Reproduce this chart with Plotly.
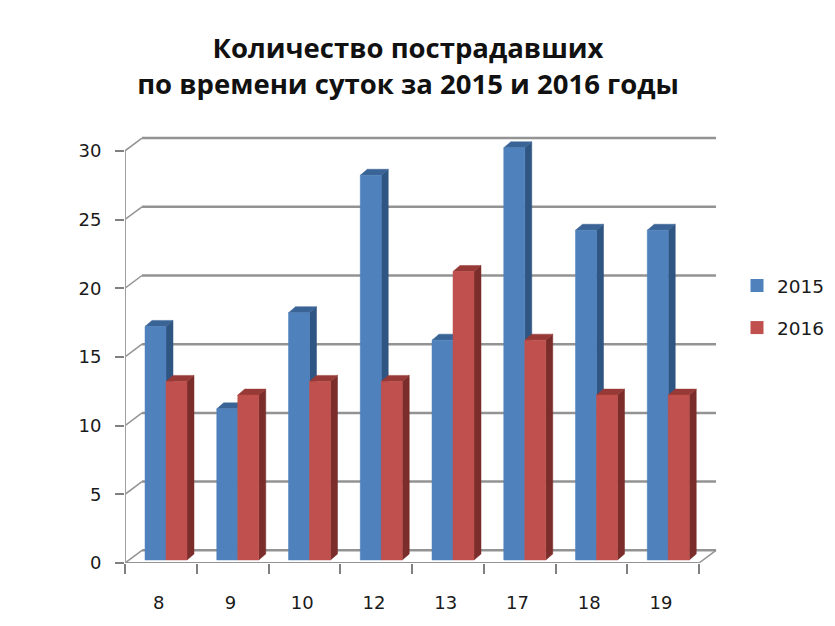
import plotly.graph_objects as go

hours = ["8", "9", "10", "12", "13", "17", "18", "19"]
y2015 = [17, 11, 18, 28, 16, 30, 24, 24]
y2016 = [13, 12, 13, 13, 21, 16, 12, 12]
y_ticks = [0, 5, 10, 15, 20, 25, 30]
title_lines = ["Количество пострадавших", "по времени суток за 2015 и 2016 годы"]

OFF = 8  # the page's own margin around the figure
W, H = 835 - OFF, 626 - 2 * OFF
LEFT, RIGHT, TOP, BOTTOM = 125 - OFF, W, 125 - OFF, 563 - OFF
PX_X = 71.75
PX_Y = 13.74
WALL_DX, WALL_DY = 17 / PX_X, 12.7 / PX_Y
DEPTH_DX, DEPTH_DY = 7 / PX_X, 6 / PX_Y
BAR_BASE = 3 / PX_Y
BAR_W = 21 / PX_X
BAR_START = 20 / PX_X
GRID = "#939393"

fig = go.Figure()
n = len(hours)


def line(xs, ys, color=GRID, width=2.5):
    fig.add_trace(go.Scatter(x=xs, y=ys, mode="lines", line=dict(color=color, width=width),
                             showlegend=False, hoverinfo="skip", cliponaxis=False))


def poly(xs, ys, color):
    fig.add_trace(go.Scatter(x=xs, y=ys, mode="lines", fill="toself", fillcolor=color,
                             line=dict(color=color, width=0.5), showlegend=False,
                             hoverinfo="skip", cliponaxis=False))


def series(values, slot, front, side, top):
    fx, fy, sx, sy, tx, ty = [], [], [], [], [], []
    for i, v in enumerate(values):
        x0 = i + BAR_START + slot * BAR_W
        x1 = x0 + BAR_W
        b, t = BAR_BASE, BAR_BASE + v
        fx += [x0, x1, x1, x0, x0, None]
        fy += [b, b, t, t, b, None]
        sx += [x1, x1 + DEPTH_DX, x1 + DEPTH_DX, x1, x1, None]
        sy += [b, b + DEPTH_DY, t + DEPTH_DY, t, b, None]
        tx += [x0, x1, x1 + DEPTH_DX, x0 + DEPTH_DX, x0, None]
        ty += [t, t, t + DEPTH_DY, t + DEPTH_DY, t, None]
    poly(sx, sy, side)
    poly(tx, ty, top)
    poly(fx, fy, front)


# back wall gridlines, with the diagonal on the side wall
for v in y_ticks:
    line([0, WALL_DX], [v, v + WALL_DY], width=1.5)
    line([WALL_DX, n + WALL_DX], [v + WALL_DY, v + WALL_DY])
line([n, n + WALL_DX], [0, WALL_DY], width=1.5)

series(y2015, 0, "#4f81bd", "#2f5583", "#3a6496")
series(y2016, 1, "#c0504d", "#7b2d2b", "#973a37")

# front axis lines
line([0, 0], [0, 30], color="#a0a0a0", width=2)
line([0, n], [0, 0], color="#949494", width=2)

for name, colour in [("2015", "#4f81bd"), ("2016", "#c0504d")]:
    fig.add_trace(go.Scatter(x=[None], y=[None], mode="markers", name=name, legendgroup=name,
                             marker=dict(symbol="square", size=13, color=colour)))

fig.update_layout(
    width=W, height=H, autosize=False,
    margin=dict(l=LEFT, r=W - RIGHT, t=TOP, b=H - BOTTOM, pad=0),
    paper_bgcolor="white", plot_bgcolor="rgba(0,0,0,0)",
    font=dict(family="DejaVu Sans", size=18, color="#1a1a1a"),
    title=dict(text="<br>".join(title_lines), x=400 / W, xanchor="center",
               y=1 - 50 / H, yanchor="top", xref="container",
               font=dict(family="Open Sans", size=27.5, color="#111111", weight="bold")),
    hovermode=False,
    legend=dict(x=(729 - LEFT) / (RIGHT - LEFT), xanchor="left", y=(BOTTOM - 259) / (BOTTOM - TOP),
                yanchor="top", tracegroupgap=15, bgcolor="rgba(0,0,0,0)",
                font=dict(family="DejaVu Sans", size=18.5, color="#1a1a1a")),
    xaxis=dict(range=[0, (RIGHT - LEFT) / PX_X], showgrid=False, zeroline=False, showline=False,
               tickmode="array", tickvals=[i + 0.47 for i in range(n)], ticktext=hours, ticks="",
               ticklabelstandoff=27,
               tickfont=dict(size=18),
               minor=dict(tickmode="array", tickvals=list(range(n + 1)), ticks="outside",
                          ticklen=10, tickwidth=1.5, tickcolor="#808080", showgrid=False)),
    yaxis=dict(range=[0, (BOTTOM - TOP) / PX_Y], showgrid=False, zeroline=False, showline=False,
               tickmode="array", tickvals=y_ticks, ticks="outside", ticklen=9, tickwidth=1.5,
               tickcolor="#808080", ticklabelstandoff=10, tickfont=dict(size=18)),
)

fig.write_html("out.html")
